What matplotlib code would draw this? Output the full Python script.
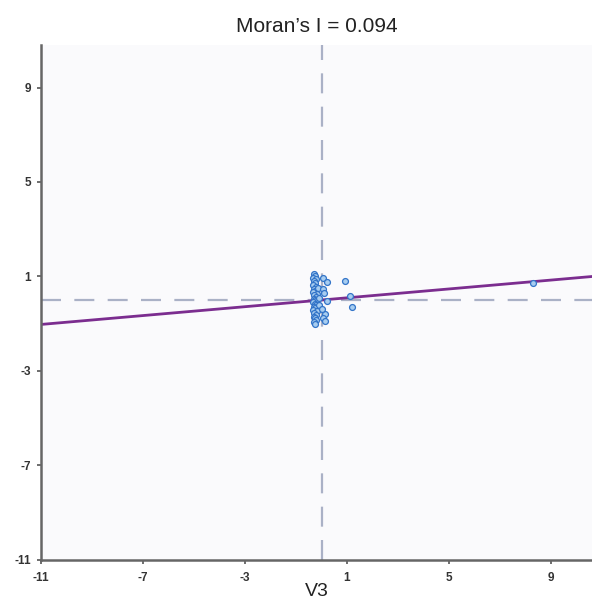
#!/usr/bin/env python3
# coding: utf-8
"""
Moran scatter plot of V3 vs. its spatial lag, with the Moran's I slope.
"""
import numpy as np
import matplotlib
matplotlib.use('Agg')
import matplotlib.pyplot as plt

# standardized values (x) and their spatial lag (y)
v3 = [-0.31, -0.27, -0.33, -0.22, -0.30, -0.25, -0.33, -0.20, -0.29, -0.24,
      -0.32, -0.18, -0.28, -0.23, -0.31, -0.26, -0.20, -0.33, -0.27, -0.22,
      -0.30, -0.25, -0.32, -0.19, -0.28, -0.23, -0.31, -0.26, -0.21, -0.29,
      -0.26, -0.12, -0.10, -0.08,
      0.04, 0.20, 0.05, 0.08, 0.20, 0.12, 0.06, 0.00, 0.15,
      0.93, 1.12, 1.19, 8.27]
lag_v3 = [1.10, 1.02, 0.95, 0.88, 0.80, 0.72, 0.62, 0.55, 0.48, 0.40,
          0.33, 0.26, 0.20, 0.13, 0.06, 0.00, -0.05, -0.10, -0.16, -0.22,
          -0.28, -0.35, -0.42, -0.48, -0.55, -0.62, -0.70, -0.78, -0.85, -0.95,
          -1.03, 0.50, -0.20, 0.10,
          0.93, 0.78, 0.45, 0.28, -0.04, -0.60, -0.75, -0.40, -0.90,
          0.80, 0.18, -0.31, 0.73]
moran_i = 0.094
ticks = [-11, -7, -3, 1, 5, 9]

plt.rcParams['font.family'] = ['Liberation Sans', 'DejaVu Sans']
plt.rcParams['axes.unicode_minus'] = False

fig = plt.figure(figsize=(5.92, 6.0), dpi=100)
ax = fig.add_axes([0.069, 0.067, 0.931, 0.858])
ax.set_facecolor('#fafafc')

xlim = (-11, 10.6)
ylim = (-11, 10.8)
ax.set_xlim(*xlim)
ax.set_ylim(*ylim)

# mean lines
ax.axvline(0, color='#aab1c6', lw=1.6, dashes=(9, 6), zorder=1)
ax.axhline(0, color='#aab1c6', lw=1.6, dashes=(9, 6), zorder=1)

# Moran's I slope through origin
xs = np.array(xlim)
ax.plot(xs, moran_i * xs, color='#7b2d8f', lw=2.0, zorder=2)

ax.scatter(v3, lag_v3, s=18, facecolor='#a7cdf0', edgecolor='#3274c8',
           linewidth=0.9, zorder=3)

ax.set_xticks(ticks)
ax.set_yticks(ticks)
ax.tick_params(direction='out', length=3, width=1.2, color='#555555',
               labelsize=8.5, labelcolor='#333333', pad=4)
ax.tick_params(axis='x', pad=6)
for lab in ax.get_xticklabels() + ax.get_yticklabels():
    lab.set_fontweight('bold')

for s in ['top', 'right']:
    ax.spines[s].set_visible(False)
for s in ['left', 'bottom']:
    ax.spines[s].set_color('#666666')
    ax.spines[s].set_linewidth(1.8)

ax.set_title("Moran\u2019s I = 0.094", fontsize=15, color='#222222', pad=9)
ax.set_xlabel('V3', fontsize=14, color='#222222', labelpad=-1)

fig.savefig('out.png', dpi=100, facecolor='white')
